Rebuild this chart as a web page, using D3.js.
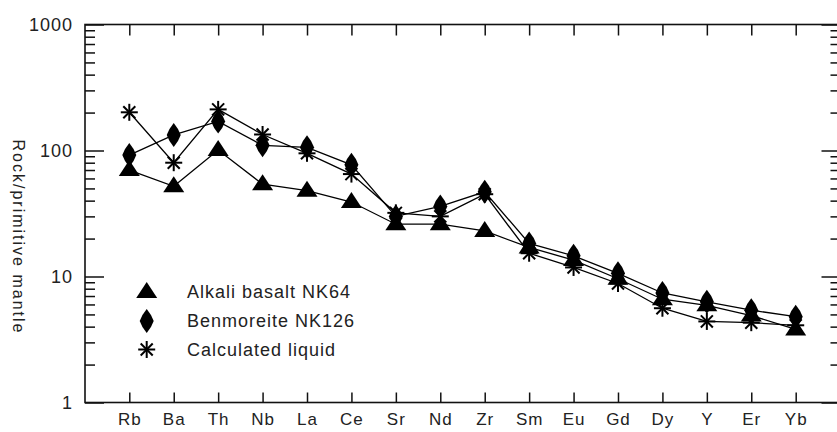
<!DOCTYPE html>
<html>
<head>
<meta charset="utf-8">
<script src="https://cdn.jsdelivr.net/npm/d3@7"></script>
<style>
  html, body { margin: 0; padding: 0; background: #fff; }
  svg { display: block; }
  text { font-family: "Liberation Sans", Arial, Helvetica, sans-serif; fill: #222; }
</style>
</head>
<body>
<svg id="chart" width="837" height="432"></svg>
<script>
// ---- data ----
const categories = ["Rb","Ba","Th","Nb","La","Ce","Sr","Nd","Zr","Sm","Eu","Gd","Dy","Y","Er","Yb"];
const alkaliBasalt = [70, 52, 101, 54, 48, 39, 26, 26, 23, 17, 13.5, 9.6, 6.6, 5.9, 4.9, 3.8];
const benmoreite   = [92, 133, 170, 110, 106, 77, 30, 36, 47, 18.3, 14.6, 10.6, 7.4, 6.3, 5.4, 4.8];
const calcLiquid   = [201, 80, 212, 134, 95, 65, 32, 30, 45, 15.3, 11.8, 8.8, 5.6, 4.4, 4.3, 4.1];
const yMajorTicks  = [1, 10, 100, 1000];
const seriesNames  = ["Alkali basalt NK64", "Benmoreite NK126", "Calculated liquid"];
const yTitle = "Rock/primitive mantle";

// ---- layout ----
const L = 85, R = 840.5, T = 24.5, B = 402.5;
const svg = d3.select("#chart");

const x = d3.scalePoint().domain(categories).range([129.3, 795.7]);
const y = d3.scaleLog().domain([1, 1000]).range([B, T]);

const yMinor = [];
for (let dec = 1; dec < 1000; dec *= 10) for (let k = 2; k <= 9; k++) yMinor.push(dec * k);

function styleAxis(g) {
  g.select(".domain").remove();
  g.selectAll(".tick line").attr("stroke", "#111").attr("stroke-width", 1.5);
}

// left axis
svg.append("g").attr("transform", `translate(${L},0)`)
  .call(d3.axisLeft(y).tickValues(yMinor).tickSize(-10).tickFormat(""))
  .call(styleAxis);
const lm = svg.append("g").attr("transform", `translate(${L},0)`)
  .call(d3.axisLeft(y).tickValues(yMajorTicks).tickSize(-19).tickPadding(12).tickFormat(d3.format("d")))
  .call(styleAxis);
lm.selectAll("text").style("font-size", "18px").style("letter-spacing", "1px").attr("fill", "#222").attr("font-family", null);

// right axis
svg.append("g").attr("transform", `translate(${R},0)`)
  .call(d3.axisRight(y).tickValues(yMinor).tickSize(-10).tickFormat(""))
  .call(styleAxis);
svg.append("g").attr("transform", `translate(${R},0)`)
  .call(d3.axisRight(y).tickValues(yMajorTicks).tickSize(-19).tickFormat(""))
  .call(styleAxis);

// bottom axis
const bx = svg.append("g").attr("transform", `translate(0,${B})`)
  .call(d3.axisBottom(x).tickSize(-10).tickPadding(10.5))
  .call(styleAxis);
bx.selectAll("text").style("font-size", "17px").style("letter-spacing", "1px").attr("fill", "#222").attr("font-family", null);

// top axis
svg.append("g").attr("transform", `translate(0,${T})`)
  .call(d3.axisTop(x).tickSize(-11).tickFormat(""))
  .call(styleAxis);

// frame
svg.append("rect").attr("x", L).attr("y", T).attr("width", R - L).attr("height", B - T)
  .attr("fill", "none").attr("stroke", "#111").attr("stroke-width", 1.6);

// y title
svg.append("text")
  .attr("transform", `translate(13,237) rotate(90)`)
  .attr("text-anchor", "middle")
  .style("font-size", "16px").style("letter-spacing", "2px")
  .attr("fill", "#444")
  .text(yTitle);

// ---- markers ----
function triangle(g) {
  g.append("path").attr("d", "M0,-10 L10.5,6 L-10.5,6 Z").attr("fill", "#000");
}
function diamond(g) {
  g.append("path").attr("d", "M0,-12 Q5,-6 7,0 Q5,6 0,12 Q-5,6 -7,0 Q-5,-6 0,-12 Z").attr("fill", "#000");
}
function asterisk(g) {
  const r = 8.5;
  for (let a = 0; a < 180; a += 45) {
    const rad = a * Math.PI / 180;
    g.append("line")
      .attr("x1", -r * Math.cos(rad)).attr("y1", -r * Math.sin(rad))
      .attr("x2", r * Math.cos(rad)).attr("y2", r * Math.sin(rad))
      .attr("stroke", "#000").attr("stroke-width", 2);
  }
}

const series = [
  { name: seriesNames[0], values: alkaliBasalt, marker: triangle },
  { name: seriesNames[1], values: benmoreite, marker: diamond },
  { name: seriesNames[2], values: calcLiquid, marker: asterisk }
];

const line = d3.line().x((d, i) => x(categories[i])).y(d => y(d));

series.forEach(s => {
  svg.append("path").datum(s.values).attr("d", line)
    .attr("fill", "none").attr("stroke", "#000").attr("stroke-width", 1.3);
});
series.forEach(s => {
  s.values.forEach((v, i) => {
    const g = svg.append("g").attr("transform", `translate(${x(categories[i])},${y(v)})`);
    s.marker(g);
  });
});

// ---- legend ----
const legendY = [292, 321, 349.5];
series.forEach((s, i) => {
  const g = svg.append("g").attr("transform", `translate(146.7,${legendY[i]})`);
  s.marker(g);
  svg.append("text").attr("x", 187).attr("y", legendY[i] + 6.3)
    .style("font-size", "18px").style("letter-spacing", "1px")
    .text(s.name);
});
</script>
</body>
</html>
